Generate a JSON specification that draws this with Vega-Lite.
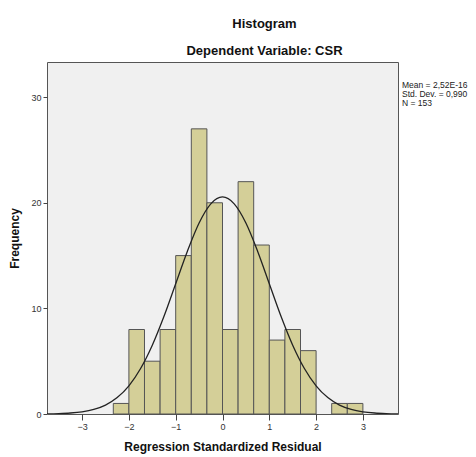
{
  "$schema": "https://vega.github.io/schema/vega-lite/v6.json",
  "autosize": "none",
  "width": 351,
  "height": 352,
  "padding": {"left": 47, "top": 62, "right": 78, "bottom": 43},
  "background": "white",
  "config": {
    "view": {"fill": "#f0f0f0", "stroke": "#555555", "strokeWidth": 1},
    "font": "Liberation Sans"
  },
  "title": {
    "text": "Histogram",
    "subtitle": "Dependent Variable: CSR",
    "anchor": "middle",
    "frame": "group",
    "dx": 42,
    "offset": 4,
    "font": "Liberation Sans",
    "fontSize": 13,
    "fontWeight": "bold",
    "color": "#111111",
    "subtitleFont": "Liberation Sans",
    "subtitleFontSize": 13,
    "subtitleFontWeight": "bold",
    "subtitleColor": "#111111",
    "subtitlePadding": 14
  },
  "datasets": {
    "bins": [
      {"start": -2.3333, "end": -2.0, "count": 1},
      {"start": -2.0, "end": -1.6667, "count": 8},
      {"start": -1.6667, "end": -1.3333, "count": 5},
      {"start": -1.3333, "end": -1.0, "count": 8},
      {"start": -1.0, "end": -0.6667, "count": 15},
      {"start": -0.6667, "end": -0.3333, "count": 27},
      {"start": -0.3333, "end": 0.0, "count": 20},
      {"start": 0.0, "end": 0.3333, "count": 8},
      {"start": 0.3333, "end": 0.6667, "count": 22},
      {"start": 0.6667, "end": 1.0, "count": 16},
      {"start": 1.0, "end": 1.3333, "count": 7},
      {"start": 1.3333, "end": 1.6667, "count": 8},
      {"start": 1.6667, "end": 2.0, "count": 6},
      {"start": 2.3333, "end": 2.6667, "count": 1},
      {"start": 2.6667, "end": 3.0, "count": 1}
    ],
    "curve": [
      {"x": -3.75, "y": 0.016}, {"x": -3.5, "y": 0.040}, {"x": -3.25, "y": 0.094},
      {"x": -3.0, "y": 0.208}, {"x": -2.75, "y": 0.434}, {"x": -2.5, "y": 0.847},
      {"x": -2.25, "y": 1.553}, {"x": -2.0, "y": 2.67}, {"x": -1.75, "y": 4.31},
      {"x": -1.5, "y": 6.52}, {"x": -1.25, "y": 9.26}, {"x": -1.0, "y": 12.34},
      {"x": -0.75, "y": 15.42}, {"x": -0.5, "y": 18.09}, {"x": -0.25, "y": 19.90},
      {"x": 0.0, "y": 20.55},
      {"x": 0.25, "y": 19.90}, {"x": 0.5, "y": 18.09}, {"x": 0.75, "y": 15.42},
      {"x": 1.0, "y": 12.34}, {"x": 1.25, "y": 9.26}, {"x": 1.5, "y": 6.52},
      {"x": 1.75, "y": 4.31}, {"x": 2.0, "y": 2.67}, {"x": 2.25, "y": 1.553},
      {"x": 2.5, "y": 0.847}, {"x": 2.75, "y": 0.434}, {"x": 3.0, "y": 0.208},
      {"x": 3.25, "y": 0.094}, {"x": 3.5, "y": 0.040}, {"x": 3.75, "y": 0.016}
    ],
    "stats": [
      {"label": "Mean = 2,52E-16", "x": 3.835, "y": 31.15},
      {"label": "Std. Dev. = 0,990", "x": 3.835, "y": 30.3},
      {"label": "N = 153", "x": 3.835, "y": 29.45}
    ]
  },
  "layer": [
    {
      "data": {"name": "bins"},
      "mark": {"type": "rect", "fill": "#d4cf98", "stroke": "#555555", "strokeWidth": 1},
      "encoding": {
        "x": {
          "field": "start", "type": "quantitative",
          "scale": {"domain": [-3.75, 3.75], "nice": false, "zero": false},
          "axis": {
            "values": [-3, -2, -1, 0, 1, 2, 3],
            "title": "Regression Standardized Residual",
            "titleFont": "Liberation Sans", "titleFontSize": 12, "titleFontWeight": "bold",
            "titleColor": "#111111", "titlePadding": 10,
            "labelFont": "Liberation Sans", "labelFontSize": 9, "labelColor": "#333333",
            "labelPadding": 2, "tickSize": 6, "tickColor": "#444444",
            "domain": false, "grid": false
          }
        },
        "x2": {"field": "end"},
        "y": {
          "field": "count", "type": "quantitative",
          "scale": {"domain": [0, 33.33], "nice": false},
          "axis": {
            "values": [0, 10, 20, 30],
            "title": "Frequency",
            "titleFont": "Liberation Sans", "titleFontSize": 12, "titleFontWeight": "bold",
            "titleColor": "#111111", "titlePadding": 9,
            "labelFont": "Liberation Sans", "labelFontSize": 9, "labelColor": "#333333",
            "labelPadding": 2, "tickSize": 4, "tickColor": "#444444",
            "domain": false, "grid": false
          }
        },
        "y2": {"datum": 0}
      }
    },
    {
      "data": {"name": "curve"},
      "mark": {"type": "line", "color": "#222222", "strokeWidth": 1.3, "interpolate": "monotone", "clip": true},
      "encoding": {
        "x": {"field": "x", "type": "quantitative"},
        "y": {"field": "y", "type": "quantitative"}
      }
    },
    {
      "data": {"name": "stats"},
      "mark": {"type": "text", "align": "left", "baseline": "middle", "font": "Liberation Sans", "fontSize": 8.5, "color": "#222222"},
      "encoding": {
        "x": {"field": "x", "type": "quantitative"},
        "y": {"field": "y", "type": "quantitative"},
        "text": {"field": "label"}
      }
    }
  ]
}
